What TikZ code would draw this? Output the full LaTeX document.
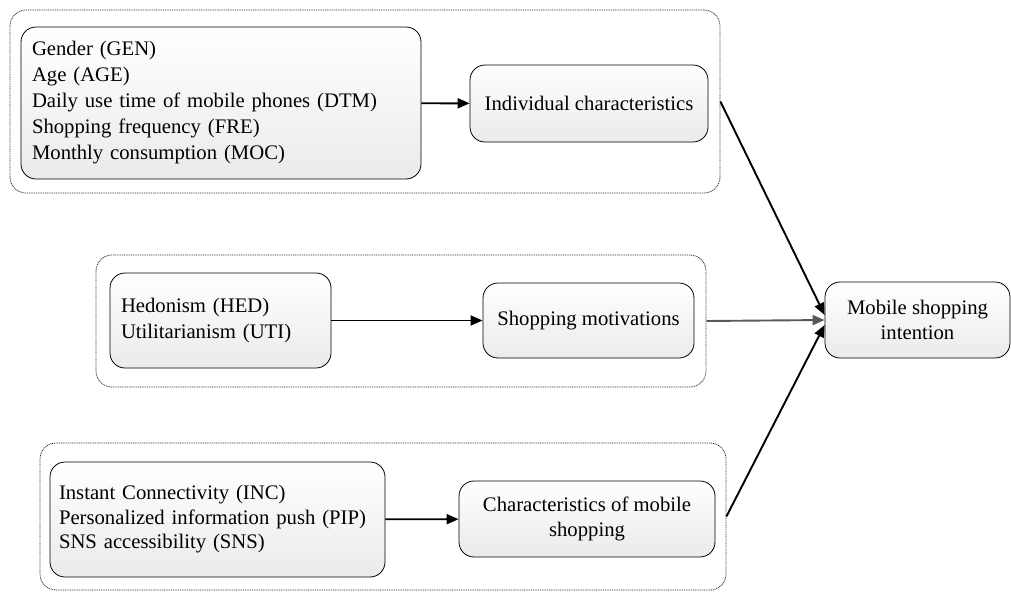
\documentclass[tikz,border=0pt]{standalone}
\usepackage{fontspec}
\setmainfont{Liberation Serif}
\usetikzlibrary{arrows.meta}
\begin{document}
\begin{tikzpicture}[x=1pt, y=-1pt, font=\fontsize{20.7}{26}\selectfont,
	group style/.style={draw=black!80, dash pattern=on 1pt off 0.8pt, rounded corners=16pt, line width=0.8pt},
	var style/.style={draw, rounded corners=15pt, line width=0.8pt, top color=white, bottom color=black!8, align=left, inner xsep=11pt},
	factor style/.style={draw, rounded corners=15pt, line width=0.8pt, top color=white, bottom color=black!8, align=center},
	link style/.style={-{Triangle[length=12pt, width=10pt]}, line width=1.9pt}]
	\useasboundingbox (0,0) rectangle (1011,592);
	\node[group style, minimum width=710pt, minimum height=183pt] (G1) at (365, 101.5) {};
	\node[group style, minimum width=610pt, minimum height=132pt] (G2) at (401, 321) {};
	\node[group style, minimum width=686pt, minimum height=147pt] (G3) at (383, 516.5) {};
	\node[var style, text width=378pt, minimum height=152pt] (V1) at (221, 103) {Gender (GEN)\\Age (AGE)\\Daily use time of mobile phones (DTM)\\Shopping frequency (FRE)\\Monthly consumption (MOC)};
	\node[var style, text width=199pt, minimum height=95pt] (V2) at (220.5, 320.5) {Hedonism (HED)\\Utilitarianism (UTI)};
	\node[var style, text width=317pt, inner xsep=9pt, minimum height=115pt, font=\fontsize{20.7}{24.5}\selectfont] (V3) at (217.5, 519.5) {Instant Connectivity (INC)\\Personalized information push (PIP)\\SNS accessibility (SNS)};
	\node[factor style, minimum width=238pt, minimum height=77pt] (F1) at (589, 103.5) {Individual characteristics};
	\node[factor style, minimum width=211pt, minimum height=75pt] (F2) at (588.5, 320.5) {Shopping motivations};
	\node[factor style, minimum width=256pt, minimum height=76pt, font=\fontsize{20.7}{25}\selectfont] (F3) at (587, 519) {Characteristics of mobile\\shopping};
	\node[factor style, minimum width=185pt, minimum height=76pt, font=\fontsize{20.7}{25}\selectfont] (M) at (917.5, 320) {Mobile shopping\\intention};
	\foreach \i in {1,2,3}
	\draw[link style] (V\i) -- (F\i);
	\foreach \i/\s/\c in {1/5/black, 2/0/black!65, 3/-5/black}
	\draw[link style, draw=\c] (G\i.east) -- ([yshift=\s pt]M.west);
\end{tikzpicture}
\end{document}
